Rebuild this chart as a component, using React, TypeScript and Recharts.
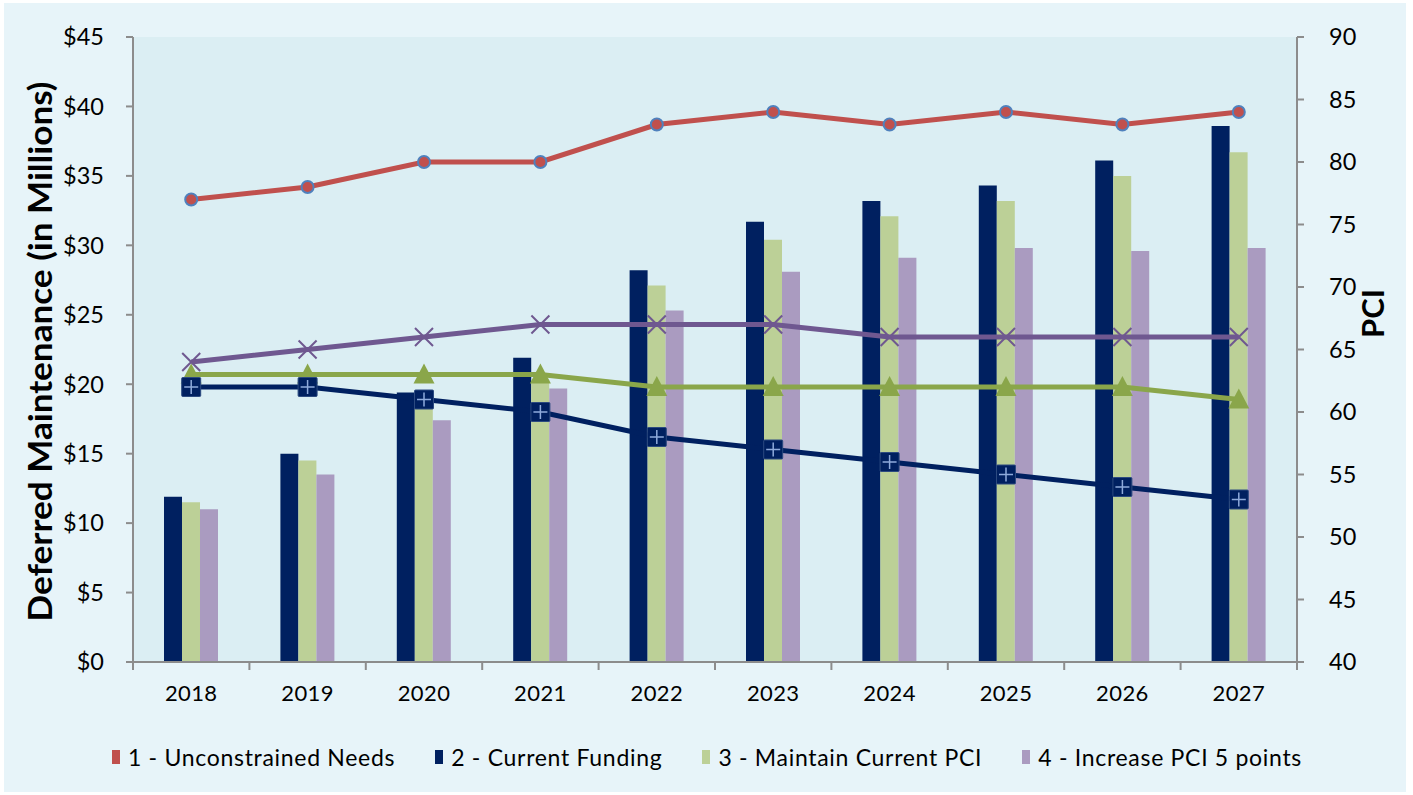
import { ComposedChart, Bar, Line, XAxis, YAxis, Legend, CartesianGrid } from "recharts";

const years = ["2018", "2019", "2020", "2021", "2022", "2023", "2024", "2025", "2026", "2027"];

// PCI lines (right axis)
const unconstrainedPci = [77, 78, 80, 80, 83, 84, 83, 84, 83, 84];
const currentFundingPci = [62, 62, 61, 60, 58, 57, 56, 55, 54, 53];
const maintainPci = [63, 63, 63, 63, 62, 62, 62, 62, 62, 61];
const increasePci = [64, 65, 66, 67, 67, 67, 66, 66, 66, 66];

// deferred maintenance bars, $M (left axis)
const currentFundingCost = [11.9, 15.0, 19.4, 21.9, 28.2, 31.7, 33.2, 34.3, 36.1, 38.6];
const maintainCost = [11.5, 14.5, 18.8, 20.3, 27.1, 30.4, 32.1, 33.2, 35.0, 36.7];
const increaseCost = [11.0, 13.5, 17.4, 19.7, 25.3, 28.1, 29.1, 29.8, 29.6, 29.8];

const dollarTicks = [0, 5, 10, 15, 20, 25, 30, 35, 40, 45];
const pciTicks = [40, 45, 50, 55, 60, 65, 70, 75, 80, 85, 90];

const legendItems = [
  { label: "1 - Unconstrained Needs", color: "#c0504d" },
  { label: "2 - Current Funding", color: "#002060" },
  { label: "3 - Maintain Current PCI", color: "#bcd097" },
  { label: "4 - Increase PCI 5 points", color: "#aa9bc0" },
];

const data = years.map((year, i) => ({
  year,
  unconstrainedPci: unconstrainedPci[i],
  currentFundingPci: currentFundingPci[i],
  maintainPci: maintainPci[i],
  increasePci: increasePci[i],
  currentFundingCost: currentFundingCost[i],
  maintainCost: maintainCost[i],
  increaseCost: increaseCost[i],
}));

const W = 1402;
const H = 789;
const margin = { top: 34, right: 9, bottom: 20, left: 9 };
const leftAxisW = 120;
const rightAxisW = 100;
const band = (W - margin.left - margin.right - leftAxisW - rightAxisW) / years.length;

const FONT = "Lato, 'Open Sans', sans-serif";
const AXIS = "#8c8c8c";

function YearTick(props: any) {
  const { x, y, payload, index } = props;
  return (
    <g>
      <line x1={x - band / 2} x2={x - band / 2} y1={y - 8} y2={y} stroke={AXIS} strokeWidth={2} />
      {index === years.length - 1 && (
        <line x1={x + band / 2} x2={x + band / 2} y1={y - 8} y2={y} stroke={AXIS} strokeWidth={2} />
      )}
      <text x={x} y={y + 22} textAnchor="middle" dominantBaseline="central" fontSize={22} letterSpacing={0.4} fill="#000">
        {payload.value}
      </text>
    </g>
  );
}

function CircleDot(p: any) {
  return <circle key={p.index} cx={p.cx} cy={p.cy} r={6} fill="#c0504d" stroke="#4f81bd" strokeWidth={2} />;
}

function PlusSquare(p: any) {
  const { cx, cy } = p;
  return (
    <g key={p.index}>
      <rect x={cx - 9.5} y={cy - 9.5} width={19} height={19} rx={1} fill="#002060" stroke="#2c4a80" strokeWidth={1} />
      <path d={`M${cx - 7} ${cy}H${cx + 7}M${cx} ${cy - 7}V${cy + 7}`} stroke="#8eaadb" strokeWidth={1.5} />
    </g>
  );
}

function TriangleDot(p: any) {
  const { cx, cy } = p;
  return <path key={p.index} d={`M${cx} ${cy - 11}L${cx + 10.5} ${cy + 9}L${cx - 10.5} ${cy + 9}Z`} fill="#8aa64a" />;
}

function CrossDot(p: any) {
  const { cx, cy } = p;
  return (
    <path
      key={p.index}
      d={`M${cx - 9} ${cy - 9}L${cx + 9} ${cy + 9}M${cx + 9} ${cy - 9}L${cx - 9} ${cy + 9}`}
      stroke="#6f5890"
      strokeWidth={2}
    />
  );
}

function LegendBox() {
  return (
    <div style={{ height: 30, display: "flex", justifyContent: "center", alignItems: "center", gap: 40, fontFamily: FONT, fontSize: 23, letterSpacing: 0.7, color: "#000", paddingLeft: 4 }}>
      {legendItems.map((it) => (
        <div key={it.label} style={{ display: "flex", alignItems: "center", gap: 8 }}>
          <span style={{ width: 8, height: 14, background: it.color, display: "inline-block" }} />
          <span>{it.label}</span>
        </div>
      ))}
    </div>
  );
}

export default function App() {
  return (
    <div style={{ position: "absolute", left: 4, top: 3, width: W, height: H, background: "#e7f4f9", fontFamily: FONT }}>
      <ComposedChart width={W} height={H} data={data} margin={margin} barGap={0} barSize={18}>
        <CartesianGrid horizontal={false} vertical={false} fill="#dbeef3" stroke="none" />
        <XAxis
          dataKey="year"
          xAxisId="x"
          height={80}
          stroke={AXIS}
          strokeWidth={2}
          tickLine={false}
          tickSize={8}
          tickMargin={0}
          tick={<YearTick />}
          interval={0}
        />
        <YAxis
          yAxisId="left"
          orientation="left"
          width={leftAxisW}
          domain={[0, 45]}
          ticks={dollarTicks}
          tickFormatter={(v) => `$${v}`}
          stroke={AXIS}
          strokeWidth={2}
          tickSize={7}
          tickMargin={22}
          tick={{ fontSize: 23.5, fill: "#000" }}
          label={{
            content: (p: any) => {
              const vb = p.viewBox;
              const cx = vb.x + 26;
              const cy = vb.y + vb.height / 2 + 2;
              return (
                <text x={cx} y={cy} transform={`rotate(-90 ${cx} ${cy})`} textAnchor="middle" dominantBaseline="central" fontSize={32} fontWeight="bold" fill="#000" textLength={540} lengthAdjust="spacingAndGlyphs">
                  Deferred Maintenance (in Millions)
                </text>
              );
            },
          }}
        />
        <YAxis
          yAxisId="right"
          orientation="right"
          width={rightAxisW}
          domain={[40, 90]}
          ticks={pciTicks}
          stroke={AXIS}
          strokeWidth={2}
          tickSize={7}
          tickMargin={25}
          tick={{ fontSize: 23.5, fill: "#000" }}
          label={{
            content: (p: any) => {
              const vb = p.viewBox;
              const cx = vb.x + 75;
              const cy = vb.y + vb.height / 2 - 36;
              return (
                <text x={cx} y={cy} transform={`rotate(-90 ${cx} ${cy})`} textAnchor="middle" dominantBaseline="central" fontSize={31} fontWeight="bold" fill="#000">
                  PCI
                </text>
              );
            },
          }}
        />
        <Legend verticalAlign="bottom" content={<LegendBox />} />
        <Bar xAxisId="x" yAxisId="left" dataKey="currentFundingCost" fill="#002060" isAnimationActive={false} />
        <Bar xAxisId="x" yAxisId="left" dataKey="maintainCost" fill="#bcd097" isAnimationActive={false} />
        <Bar xAxisId="x" yAxisId="left" dataKey="increaseCost" fill="#aa9bc0" isAnimationActive={false} />
        <Line xAxisId="x" yAxisId="right" dataKey="increasePci" stroke="#6f5890" strokeWidth={5} dot={CrossDot} activeDot={false} isAnimationActive={false} />
        <Line xAxisId="x" yAxisId="right" dataKey="maintainPci" stroke="#8aa64a" strokeWidth={5} dot={TriangleDot} activeDot={false} isAnimationActive={false} />
        <Line xAxisId="x" yAxisId="right" dataKey="currentFundingPci" stroke="#002060" strokeWidth={5} dot={PlusSquare} activeDot={false} isAnimationActive={false} />
        <Line xAxisId="x" yAxisId="right" dataKey="unconstrainedPci" stroke="#c0504d" strokeWidth={5} dot={CircleDot} activeDot={false} isAnimationActive={false} />
      </ComposedChart>
    </div>
  );
}
